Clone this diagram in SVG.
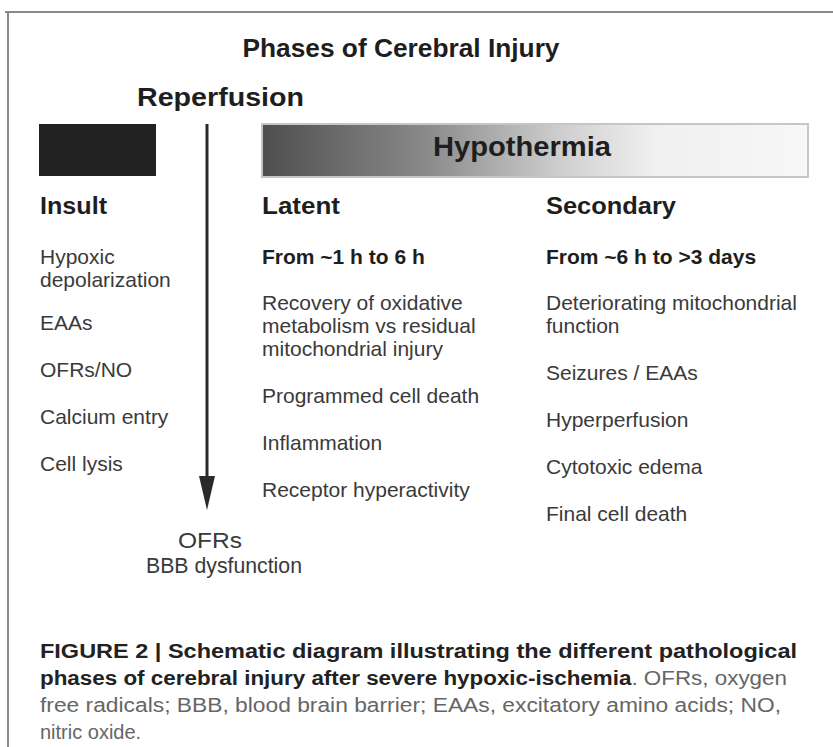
<svg xmlns="http://www.w3.org/2000/svg" width="833" height="747" viewBox="0 0 833 747">
<defs>
<linearGradient id="hypo" x1="0" y1="0" x2="1" y2="0">
<stop offset="0" stop-color="#4e4e4e"/>
<stop offset="0.3" stop-color="#8a8a8a"/>
<stop offset="0.55" stop-color="#cfcfcf"/>
<stop offset="0.72" stop-color="#f0f0f0"/>
<stop offset="1" stop-color="#f7f7f7"/>
</linearGradient>
</defs>
<style>
text{font-family:"Liberation Sans",Arial,sans-serif}
.h{font-weight:bold;fill:#1e1e1e}
.b{font-size:21px;fill:#3a3a3a}
.bb{font-size:21px;font-weight:bold;fill:#1e1e1e}
.col{font-size:24px;font-weight:bold;fill:#1e1e1e}
.capb{font-size:20px;font-weight:bold;fill:#222}
.capr{font-size:20px;fill:#666}
.frame{stroke:#8a8a8a;stroke-width:2;fill:none}
</style>
<rect width="833" height="747" fill="#ffffff"/>
<path class="frame" d="M5 12 H833 M8 12 V747"/>

<g id="title">
<text class="h" x="401" y="57" font-size="25" text-anchor="middle" textLength="317" lengthAdjust="spacingAndGlyphs">Phases of Cerebral Injury</text>
</g>
<g id="reperfusion">
<text class="h" x="137" y="106" font-size="25" textLength="167" lengthAdjust="spacingAndGlyphs">Reperfusion</text>
</g>

<g id="insult-bar">
<rect x="39" y="124" width="117" height="52" fill="#222"/>
</g>
<g id="hypothermia">
<rect x="262" y="124" width="546" height="53" fill="url(#hypo)" stroke="#c6c6c6" stroke-width="2"/>
<text class="h" x="433" y="156" font-size="27" textLength="178" lengthAdjust="spacingAndGlyphs">Hypothermia</text>
</g>

<g id="connectors">
<line x1="207" y1="124" x2="207" y2="480" stroke="#2a2a2a" stroke-width="3"/>
<polygon points="199,476 215,476 207,510" fill="#2a2a2a"/>
</g>

<g id="insult">
<text class="col" x="40" y="214" textLength="67" lengthAdjust="spacingAndGlyphs">Insult</text>
<text class="b" x="40" y="264">Hypoxic</text>
<text class="b" x="40" y="287">depolarization</text>
<text class="b" x="40" y="330">EAAs</text>
<text class="b" x="40" y="377">OFRs/NO</text>
<text class="b" x="40" y="424">Calcium entry</text>
<text class="b" x="40" y="471">Cell lysis</text>
</g>

<g id="latent">
<text class="col" x="262" y="214" textLength="78" lengthAdjust="spacingAndGlyphs">Latent</text>
<text class="bb" x="262" y="264">From ~1 h to 6 h</text>
<text class="b" x="262" y="310">Recovery of oxidative</text>
<text class="b" x="262" y="333">metabolism vs residual</text>
<text class="b" x="262" y="356">mitochondrial injury</text>
<text class="b" x="262" y="403">Programmed cell death</text>
<text class="b" x="262" y="450">Inflammation</text>
<text class="b" x="262" y="497">Receptor hyperactivity</text>
</g>

<g id="secondary">
<text class="col" x="546" y="214" textLength="130" lengthAdjust="spacingAndGlyphs">Secondary</text>
<text class="bb" x="546" y="264">From ~6 h to &gt;3 days</text>
<text class="b" x="546" y="310">Deteriorating mitochondrial</text>
<text class="b" x="546" y="333">function</text>
<text class="b" x="546" y="380">Seizures / EAAs</text>
<text class="b" x="546" y="427">Hyperperfusion</text>
<text class="b" x="546" y="474">Cytotoxic edema</text>
<text class="b" x="546" y="521">Final cell death</text>
</g>

<g id="outcome">
<text class="b" x="210" y="548" text-anchor="middle" style="font-size:22px" textLength="64" lengthAdjust="spacingAndGlyphs">OFRs</text>
<text class="b" x="224" y="573" text-anchor="middle" style="font-size:22px" textLength="156" lengthAdjust="spacingAndGlyphs">BBB dysfunction</text>
</g>

<g id="caption">
<text class="capb" x="40" y="658" textLength="757" lengthAdjust="spacingAndGlyphs">FIGURE 2 | Schematic diagram illustrating the different pathological</text>
<text x="40" y="685" textLength="747" lengthAdjust="spacingAndGlyphs"><tspan class="capb">phases of cerebral injury after severe hypoxic-ischemia</tspan><tspan class="capr">. OFRs, oxygen</tspan></text>
<text class="capr" x="40" y="712" textLength="741" lengthAdjust="spacingAndGlyphs">free radicals; BBB, blood brain barrier; EAAs, excitatory amino acids; NO,</text>
<text class="capr" x="40" y="739">nitric oxide.</text>
</g>
</svg>
